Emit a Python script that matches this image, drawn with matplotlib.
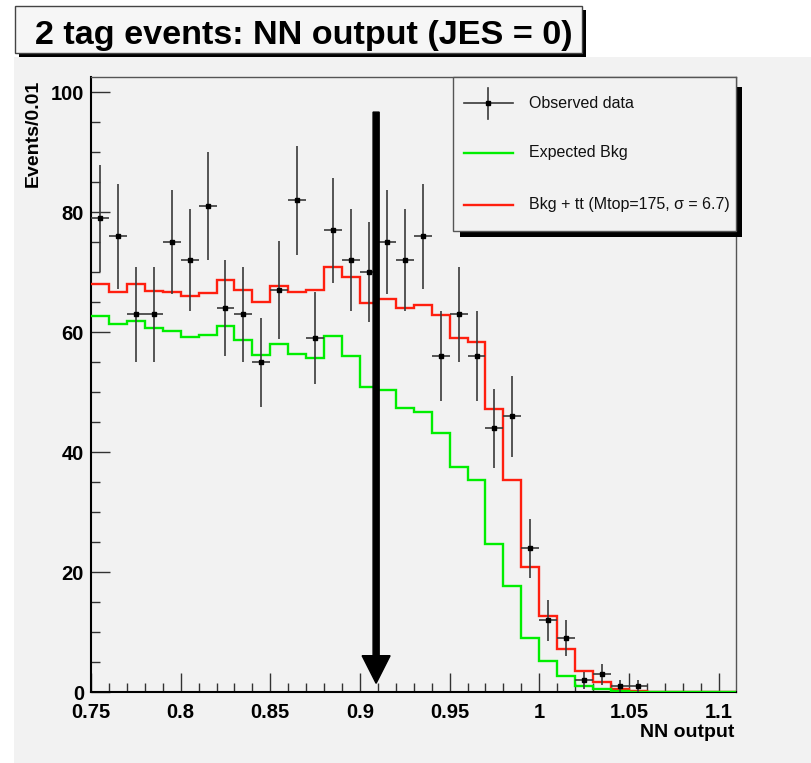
import numpy as np
import matplotlib
matplotlib.use("Agg")
import matplotlib.pyplot as plt
from matplotlib.patches import Rectangle
from matplotlib.lines import Line2D
from matplotlib.ticker import MultipleLocator

plt.rcParams['font.family'] = ['Liberation Sans', 'DejaVu Sans']

# ---- histogram binning -------------------------------------------------
bin_low = 0.75
bin_width = 0.01

# ---- per-bin contents ----------------------------------------------------
observed = [79, 76, 63, 63, 75, 72, 81, 64, 63, 55, 67, 82, 59, 77, 72, 70,
            75, 72, 76, 56, 63, 56, 44, 46, 24, 12, 9, 2, 3, 1, 1,
            0, 0, 0, 0, 0]
expected_bkg = [62.7, 61.4, 61.9, 60.7, 60.3, 59.2, 59.5, 61.0, 58.8, 56.2,
                58.0, 56.4, 55.8, 59.4, 56.1, 50.9, 50.4, 47.4, 46.7, 43.3,
                37.6, 35.4, 24.7, 17.8, 9.1, 5.2, 2.8, 1.05, 0.6, 0.15,
                0.1, 0.05, 0.03, 0.02, 0.01, 0.0]
bkg_plus_tt = [68.1, 66.7, 68.0, 66.9, 66.8, 66.0, 66.6, 68.7, 67.0, 65.1,
               67.8, 66.8, 67.0, 70.9, 69.2, 64.9, 65.6, 64.0, 64.6, 62.9,
               59.0, 58.4, 47.2, 35.4, 20.9, 12.8, 7.3, 3.5, 1.8, 0.55,
               0.2, 0.1, 0.05, 0.03, 0.02, 0.01]

# ---- selection cut arrow -------------------------------------------------
cut_value = 0.909
arrow_top = 96.7
arrow_tip = 1.5

# ---- axes ---------------------------------------------------------------
x_range = (0.75, 1.1097)
y_range = (0, 102.5)
x_ticks = [0.75, 0.80, 0.85, 0.90, 0.95, 1.00, 1.05, 1.10]
x_tick_labels = ["0.75", "0.8", "0.85", "0.9", "0.95", "1", "1.05", "1.1"]
y_ticks = [0, 20, 40, 60, 80, 100]
y_tick_labels = ["0", "20", "40", "60", "80", "100"]

title = "2 tag events: NN output (JES = 0)"
x_title = "NN output"
y_title = "Events/0.01"
legend_labels = ["Observed data", "Expected Bkg", "Bkg + tt (Mtop=175, \u03c3 = 6.7)"]

RED = '#ff1f0f'
GREEN = '#00ee00'
BG = '#f2f2f2'

W, H = 812, 763
fig = plt.figure(figsize=(W / 100, H / 100), dpi=100)
fig.patch.set_facecolor('white')

# grey pad area
fig.add_artist(Rectangle((14 / W, 0), 1 - 14 / W, (H - 57) / H,
                         transform=fig.transFigure, facecolor=BG,
                         edgecolor='none', zorder=0))

ax_l, ax_r, ax_t, ax_b = 91, 736, 77.3, 692.3
ax = fig.add_axes([ax_l / W, (H - ax_b) / H, (ax_r - ax_l) / W, (ax_b - ax_t) / H])
ax.set_facecolor(BG)

n_bins = len(expected_bkg)
edges = bin_low + bin_width * np.arange(n_bins + 1)
centers = edges[:-1] + bin_width / 2

ax.stairs(bkg_plus_tt, edges, baseline=None, color=RED, lw=1.7, zorder=3)
ax.stairs(expected_bkg, edges, baseline=None, color=GREEN, lw=1.7, zorder=3)

obs = np.array(observed, dtype=float)
mask = obs > 0
ax.errorbar(centers[mask], obs[mask], yerr=np.sqrt(obs[mask]), xerr=bin_width / 2,
            fmt='s', ms=2.8, mfc='black', mec='black', ecolor='#3a3a3a',
            elinewidth=1.2, capsize=0, zorder=4)

# cut arrow (axis aligned, so data-unit widths are well defined)
ax.arrow(cut_value, arrow_top, 0, arrow_tip - arrow_top,
         width=0.0034, head_width=0.0156, head_length=4.6,
         length_includes_head=True, color='black', zorder=6)

ax.set_xlim(*x_range)
ax.set_ylim(*y_range)
ax.set_xticks(x_ticks)
ax.set_xticklabels(x_tick_labels)
ax.set_yticks(y_ticks)
ax.set_yticklabels(y_tick_labels)
ax.xaxis.set_minor_locator(MultipleLocator(0.01))
ax.yaxis.set_minor_locator(MultipleLocator(5))
ax.tick_params(which='major', direction='in', length=13.5, width=1.0,
               color='#333333', labelsize=14.5)
ax.tick_params(which='minor', direction='in', length=6.5, width=1.0,
               color='#333333')
ax.tick_params(axis='x', pad=7.5)
ax.tick_params(axis='y', pad=5)
for lbl in ax.get_xticklabels() + ax.get_yticklabels():
    lbl.set_fontweight('bold')

for side in ('left', 'bottom'):
    ax.spines[side].set_color('black')
    ax.spines[side].set_linewidth(1.5)
for side in ('top', 'right'):
    ax.spines[side].set_color('#555555')
    ax.spines[side].set_linewidth(1.0)

# axis titles
fig.text(33 / W, 1 - 80 / H, y_title, rotation=90, ha='center', va='top',
         fontsize=14, fontweight='bold')
fig.text(734 / W, 1 - 737 / H, x_title, ha='right', va='baseline',
         fontsize=14, fontweight='bold')

# title box with shadow
tb_l, tb_t, tb_r, tb_b = 15, 6, 582, 53
fig.add_artist(Rectangle(((tb_l + 4) / W, 1 - (tb_b + 4) / H), (tb_r - tb_l) / W,
                         (tb_b - tb_t) / H, transform=fig.transFigure,
                         facecolor='black', edgecolor='none', zorder=5))
fig.add_artist(Rectangle((tb_l / W, 1 - tb_b / H), (tb_r - tb_l) / W,
                         (tb_b - tb_t) / H, transform=fig.transFigure,
                         facecolor='#f6f6f6', edgecolor='#444444', lw=1.0, zorder=6))
fig.text(304 / W, 1 - 44 / H, title, ha='center', va='baseline',
         fontsize=24.6, fontweight='bold', zorder=7)

# legend box with shadow (axes coordinates)
def ax_x(px):
    return (px - ax_l) / (ax_r - ax_l)

def ax_y(py):
    return (ax_b - py) / (ax_b - ax_t)

lg_l, lg_t, lg_r, lg_b = 453.3, 77.3, 736, 230.7
ax.add_patch(Rectangle((ax_x(lg_l + 7), ax_y(lg_b + 6)), ax_x(lg_r + 6) - ax_x(lg_l + 7),
                       ax_y(lg_t + 10) - ax_y(lg_b + 6), transform=ax.transAxes,
                       facecolor='black', edgecolor='none', clip_on=False, zorder=8))
ax.add_patch(Rectangle((ax_x(lg_l), ax_y(lg_b)), ax_x(lg_r) - ax_x(lg_l),
                       ax_y(lg_t) - ax_y(lg_b), transform=ax.transAxes,
                       facecolor=BG, edgecolor='#555555', lw=1.0, clip_on=False, zorder=9))

row_y = [103, 153, 205]
sx0, sx1 = 464, 513
sxc = (sx0 + sx1) / 2
tx = 529
# observed data sample: cross with marker
ax.add_line(Line2D([ax_x(sx0), ax_x(sx1)], [ax_y(row_y[0])] * 2, transform=ax.transAxes,
                   color='#3a3a3a', lw=1.2, zorder=10, clip_on=False))
ax.add_line(Line2D([ax_x(sxc)] * 2, [ax_y(87.5), ax_y(118.5)], transform=ax.transAxes,
                   color='#3a3a3a', lw=1.2, zorder=10, clip_on=False))
ax.add_line(Line2D([ax_x(sxc)], [ax_y(row_y[0])], transform=ax.transAxes, marker='s',
                   ms=2.8, color='black', zorder=11, clip_on=False))
ax.add_line(Line2D([ax_x(sx0), ax_x(sx1)], [ax_y(row_y[1])] * 2, transform=ax.transAxes,
                   color=GREEN, lw=1.7, zorder=10, clip_on=False))
ax.add_line(Line2D([ax_x(sx0), ax_x(sx1)], [ax_y(row_y[2])] * 2, transform=ax.transAxes,
                   color=RED, lw=1.7, zorder=10, clip_on=False))
for ry, lab in zip(row_y, legend_labels):
    ax.text(ax_x(tx), ax_y(ry), lab, transform=ax.transAxes, ha='left', va='center',
            fontsize=11.5, color='#111111', zorder=11, clip_on=False)

fig.savefig('out.png', dpi=100, facecolor=fig.get_facecolor())
